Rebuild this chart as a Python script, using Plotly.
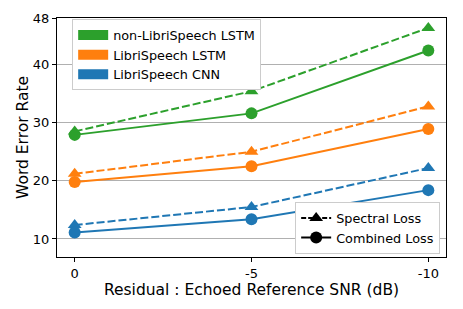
import plotly.graph_objects as go

snr_labels = ["0", "-5", "-10"]
models = ["non-LibriSpeech LSTM", "LibriSpeech LSTM", "LibriSpeech CNN"]
colors = ["#2ca02c", "#ff7f0e", "#1f77b4"]
spectral_loss = [
    [28.5, 35.4, 46.3],
    [21.2, 25.0, 32.8],
    [12.4, 15.5, 22.2],
]
combined_loss = [
    [27.9, 31.6, 42.4],
    [19.8, 22.5, 28.9],
    [11.1, 13.4, 18.4],
]
y_ticks = [10, 20, 30, 40, 48]

xpos = list(range(len(snr_labels)))
fig = go.Figure()
font = "DejaVu Sans, sans-serif"

for i, m in enumerate(models):
    fig.add_trace(go.Scatter(x=xpos, y=spectral_loss[i], mode="lines+markers",
                             line=dict(color=colors[i], width=2, dash="8px,3px"),
                             marker=dict(symbol="triangle-up", size=12, color=colors[i]),
                             showlegend=False))
    fig.add_trace(go.Scatter(x=xpos, y=combined_loss[i], mode="lines+markers",
                             line=dict(color=colors[i], width=2),
                             marker=dict(symbol="circle", size=12, color=colors[i]),
                             showlegend=False))

for i, m in enumerate(models):
    fig.add_trace(go.Scatter(x=[None], y=[None], mode="lines", name=m,
                             line=dict(color=colors[i], width=10), legend="legend"))

fig.add_trace(go.Scatter(x=[None], y=[None], mode="lines+markers", name="Spectral Loss",
                         line=dict(color="black", width=2, dash="5px,2px"),
                         marker=dict(symbol="triangle-up", size=12, color="black"), legend="legend2"))
fig.add_trace(go.Scatter(x=[None], y=[None], mode="lines+markers", name="Combined Loss",
                         line=dict(color="black", width=2),
                         marker=dict(symbol="circle", size=12, color="black"), legend="legend2"))

fig.update_layout(
    width=455, height=301,
    margin=dict(l=49, r=17, t=10, b=52, autoexpand=False),
    plot_bgcolor="white", paper_bgcolor="white",
    font=dict(family=font, size=13, color="black"),
    xaxis=dict(tickmode="array", tickvals=xpos, ticktext=snr_labels, range=[-0.1, 2.1],
               showgrid=False, zeroline=False, showline=True, linecolor="black", linewidth=1,
               mirror=True, ticks="outside", ticklen=4, tickcolor="black",
               tickfont=dict(size=13), automargin=False,
               title=dict(text="Residual : Echoed Reference SNR (dB)", font=dict(size=15.5), standoff=2)),
    yaxis=dict(tickmode="array", tickvals=y_ticks, range=[6.9, 48],
               showgrid=True, gridcolor="#b0b0b0", gridwidth=1, zeroline=False,
               showline=True, linecolor="black", linewidth=1, mirror=True,
               ticks="outside", ticklen=4, tickcolor="black",
               tickfont=dict(size=13), automargin=False,
               title=dict(text="Word Error Rate", font=dict(size=15.5), standoff=0)),
    legend=dict(x=0.039, y=0.995, xanchor="left", yanchor="top", bgcolor="white",
                bordercolor="#cccccc", borderwidth=1, font=dict(size=12.8), tracegroupgap=0,
                itemsizing="trace"),
    legend2=dict(x=0.985, y=0.012, xanchor="right", yanchor="bottom", bgcolor="white",
                 bordercolor="#cccccc", borderwidth=1, font=dict(size=12.8)),
)

fig.write_html("out.html")
